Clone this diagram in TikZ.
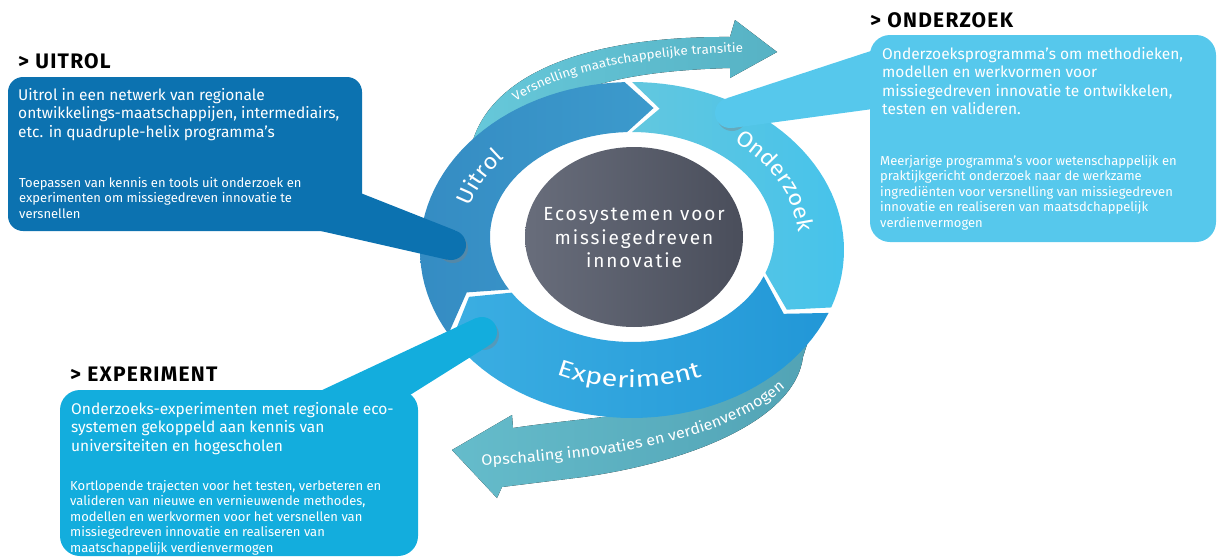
\documentclass[tikz,border=0pt]{standalone}
\usepackage{fontspec}
\setmainfont{Fira Sans}
\newfontfamily\ringfont[LetterSpace=10]{Fira Sans}
\newfontfamily\arcfont[FakeStretch=1.08]{Fira Sans}
\newfontfamily\widefont[FakeStretch=1.25]{Fira Sans}
\newfontfamily\titlefont[LetterSpace=6]{Fira Sans}
\usepackage{xcolor}
\usepackage{tikz}
\usetikzlibrary{decorations.text, shadows}

\definecolor{uitrolbox}{HTML}{0C72B0}
\definecolor{onderzoekbox}{HTML}{56C8EC}
\definecolor{experimentbox}{HTML}{13ADDD}
\definecolor{uitrolA}{HTML}{358CC3}
\definecolor{uitrolB}{HTML}{3C9ACC}
\definecolor{onderzoekA}{HTML}{62C7DF}
\definecolor{onderzoekB}{HTML}{46C3EB}
\definecolor{experimentA}{HTML}{3BAEE2}
\definecolor{experimentB}{HTML}{2297D7}
\definecolor{versnelA}{HTML}{66C8DA}
\definecolor{versnelB}{HTML}{57B2C4}
\definecolor{opschalA}{HTML}{65BCCB}
\definecolor{opschalB}{HTML}{52A3B5}
\definecolor{coreA}{HTML}{686D7B}
\definecolor{coreB}{HTML}{4A4E5B}

% ring piece: notch at #1, arrow tip after #2
\newcommand{\ringseg}[3]{%
  \path[#3] plot[domain=#1:#2, samples=40] ({632+212*cos(\x)},{250+168*sin(\x)})
    -- ({632+177*cos(#2+9)},{243.5+136.5*sin(#2+9)})
    -- plot[domain=#1:#2, samples=40] ({632+142*cos(#1+#2-\x)},{237+105*sin(#1+#2-\x)})
    -- ({632+177*cos(#1+9)},{243.5+136.5*sin(#1+9)}) -- cycle;}

\begin{document}
\begin{tikzpicture}[x=1pt, y=-1pt,
    panel/.style = {anchor=north west, inner sep=0pt, outer sep=0pt},
    boxtitle/.style = {anchor=base west, inner sep=0pt, font=\titlefont\fontsize{21}{21}\selectfont\bfseries},
    maintext/.style = {anchor=north west, inner sep=0pt, align=left, text=white, font=\fontsize{15.5}{18.5}\selectfont},
    smalltext/.style = {anchor=north west, inner sep=0pt, align=left, text=white, font=\fontsize{13}{15.5}\selectfont},
    pindot/.style = {circle, minimum size=30pt, inner sep=0pt, drop shadow={opacity=0.4, shadow xshift=2pt, shadow yshift=-3pt}},
    ringtext/.style = {decorate, decoration={text along path, text align=center, text={#1}}}
  ]
  \useasboundingbox (0,0) rectangle (1219,557);

  \fill[left color=versnelA, right color=versnelB] (473,140) .. controls (495,72) and (590,36) .. (730,37)
    -- (735,20) -- (777,52) -- (730,78) -- (730,68) .. controls (660,70) and (600,78) .. (560,100)
    -- (490,150) -- cycle;
  \fill[left color=opschalA, right color=opschalB] (452,450) -- (512,415) -- (513,428)
    .. controls (580,418) and (650,415) .. (700,400) -- (800,320) -- (810,335) -- (803,357)
    .. controls (795,420) and (690,462) .. (583,477) -- (502,487) -- (497,498) -- cycle;

  \ringseg{150}{268}{left color=uitrolA, right color=uitrolB}
  \ringseg{270}{380}{left color=onderzoekA, right color=onderzoekB}
  \ringseg{382}{508}{left color=experimentA, right color=experimentB}

  \shade[left color=coreA, right color=coreB] (634,237) ellipse [x radius=109, y radius=90];
  \node[font=\ringfont\fontsize{19}{23.5}\selectfont, text=white, align=center] (core) at (634,238)
    {Ecosystemen voor\\missiegedreven\\innovatie};

  \path[ringtext={|\arcfont\fontsize{22}{26}\selectfont\color{white}|Uitrol}]
    plot[domain=177:237, samples=30] ({632+168.6*cos(\x)},{241.9+128.9*sin(\x)});
  \path[ringtext={|\arcfont\fontsize{22}{26}\selectfont\color{white}|Onderzoek}]
    plot[domain=298:368, samples=30] ({632+166.5*cos(\x)},{241.6+127*sin(\x)});
  \path[ringtext={|\widefont\fontsize{23}{27}\selectfont\color{white}|Experiment}]
    plot[domain=46:136, samples=30] ({632+184*cos(182-\x)},{244.8+142.8*sin(182-\x)});
  \path[ringtext={|\arcfont\fontsize{12.5}{15}\selectfont\color{white}|Versnelling maatschappelijke transitie}]
    (496,117) .. controls (548,68) and (650,54) .. (768,51);
  \path[ringtext={|\arcfont\fontsize{15}{18}\selectfont\color{white}|Opschaling innovaties en verdienvermogen}]
    (450,467) .. controls (595,461) and (752,444) .. (806,364);

  \node[panel, fill=uitrolbox, minimum width=354pt, minimum height=154pt, rounded corners=15pt] (uitrolpanel) at (8,77) {};
  \node[panel, fill=onderzoekbox, minimum width=346pt, minimum height=207pt, rounded corners=20pt] (onderzoekpanel) at (870,35) {};
  \node[panel, fill=experimentbox, minimum width=358pt, minimum height=166pt, rounded corners=20pt] (experimentpanel) at (60,390) {};

  \node[pindot] (uitroldot) at (451,245) {};
  \node[pindot] (onderzoekdot) at (730,113) {};
  \node[pindot] (experimentdot) at (482,332) {};
  \fill[uitrolbox] (358,192) -- (uitroldot.75) -- (uitroldot.-105) -- (312,229) -- cycle;
  \fill[onderzoekbox] (880,48) -- (onderzoekdot.100) -- (onderzoekdot.-80) -- (880,108) -- cycle;
  \fill[experimentbox] (318,392) -- (experimentdot.115) -- (experimentdot.-65) -- (410,395) -- cycle;
  \fill[uitrolbox] (uitroldot) circle [radius=15];
  \fill[onderzoekbox] (onderzoekdot) circle [radius=15];
  \fill[experimentbox] (experimentdot) circle [radius=15];

  \node[boxtitle] (uitroltitle) at (18,68) {> UITROL};
  \node[maintext] (uitrolmain) at (18,88) {Uitrol in een netwerk van regionale\\ontwikkelings-maatschappijen, intermediairs,\\etc. in quadruple-helix programma’s};
  \node[smalltext] (uitrolsmall) at (19,177) {Toepassen van kennis en tools uit onderzoek en\\experimenten om missiegedreven innovatie te\\versnellen};

  \node[boxtitle] (onderzoektitle) at (870,27) {> ONDERZOEK};
  \node[maintext] (onderzoekmain) at (882,47) {Onderzoeksprogramma’s om methodieken,\\modellen en werkvormen voor\\missiegedreven innovatie te ontwikkelen,\\testen en valideren.};
  \node[smalltext] (onderzoeksmall) at (880,155) {Meerjarige programma’s voor wetenschappelijk en\\praktijkgericht onderzoek naar de werkzame\\ingrediënten voor versnelling van missiegedreven\\innovatie en realiseren van maatsdchappelijk\\verdienvermogen};

  \node[boxtitle] (experimenttitle) at (70,381) {> EXPERIMENT};
  \node[maintext] (experimentmain) at (71,402) {Onderzoeks-experimenten met regionale eco-\\systemen gekoppeld aan kennis van\\universiteiten en hogescholen};
  \node[smalltext] (experimentsmall) at (70,480) {Kortlopende trajecten voor het testen, verbeteren en\\valideren van nieuwe en vernieuwende methodes,\\modellen en werkvormen voor het versnellen van\\missiegedreven innovatie en realiseren van\\maatschappelijk verdienvermogen};
\end{tikzpicture}
\end{document}
